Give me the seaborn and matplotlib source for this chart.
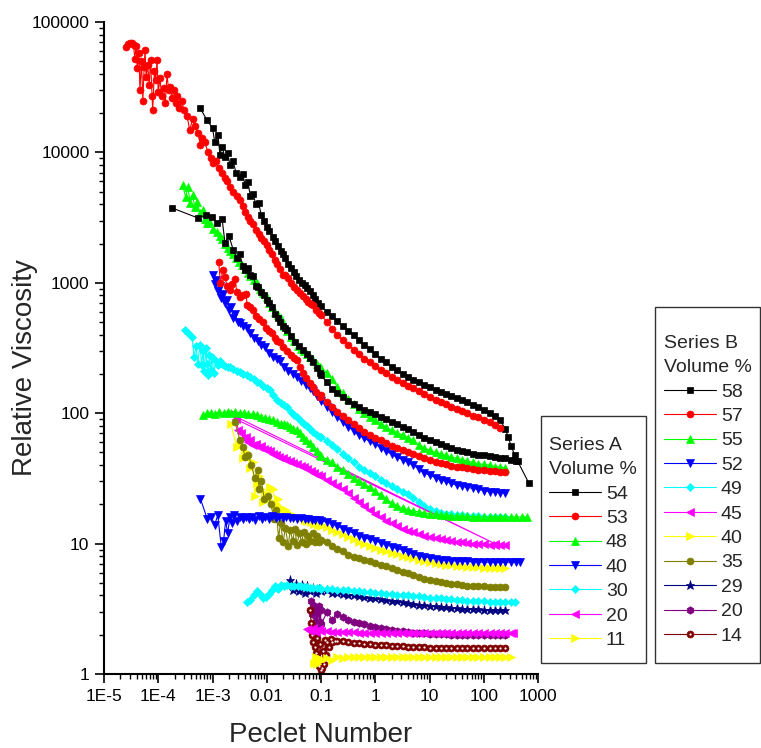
import matplotlib
matplotlib.use("Agg")
import numpy as np
import matplotlib.pyplot as plt
import seaborn as sns
from matplotlib.patches import Rectangle
from matplotlib.legend_handler import HandlerTuple
from matplotlib.ticker import LogLocator, NullFormatter

sns.set_style("ticks")
plt.rcParams["font.family"] = ["Liberation Sans", "DejaVu Sans"]

# ---------------- data ----------------
TAIL = [0.1, 0.13, 0.16, 0.2, 0.25,
        0.32, 0.4, 0.5, 0.63, 0.79,
        1, 1.3, 1.6, 2, 2.5,
        3.2, 4, 5, 6.3, 7.9,
        10, 13, 16, 20, 25,
        32, 40, 50, 63, 79,
        100, 130, 160, 200, 250]

x_ticks = [1e-5, 1e-4, 1e-3, 1e-2, 1e-1, 1, 10, 100, 1000]
x_tick_labels = ["1E-5", "1E-4", "1E-3", "0.01", "0.1", "1", "10", "100", "1000"]
y_ticks = [1, 10, 100, 1000, 10000, 100000]
y_tick_labels = ["1", "10", "100", "1000", "10000", "100000"]

# Series B, 58 %
pe_b58 = [5.9e-4, 7.9e-4, 1.0e-3, 1.1e-3, 1.26e-3, 1.37e-3, 1.5e-3, 1.7e-3, 1.9e-3, 2.1e-3,
          2.4e-3, 2.7e-3, 3.2e-3, 3.6e-3, 4.0e-3, 4.5e-3, 5.0e-3, 5.6e-3, 6.3e-3, 7.1e-3,
          7.9e-3, 8.9e-3, 0.01, 0.011, 0.013, 0.014, 0.016, 0.018, 0.02, 0.022,
          0.025, 0.028, 0.032, 0.035, 0.04, 0.045, 0.05, 0.056, 0.063, 0.071,
          0.079, 0.089] + TAIL + [280, 320, 370, 420, 680]
v_b58 = [21900, 17700, 15400, 12000, 13600, 9600, 11000, 9200, 9900, 8000,
         8600, 7000, 6500, 6800, 5600, 5900, 4600, 4800, 4000, 4100,
         3300, 3000, 2700, 2500, 2250, 2100, 1900, 1750, 1650, 1550,
         1400, 1300, 1200, 1130, 1060, 1000, 960, 920, 860, 800,
         750, 700,
         660, 600, 560, 510, 470, 430, 395, 365, 335, 310,
         285, 262, 245, 228, 213, 200, 190, 180, 172, 165,
         158, 151, 145, 140, 135, 130, 126, 121, 116, 111,
         106, 100, 95, 88, 76,
         66, 56, 48, 43, 29]

# Series B, 57 %
pe_b57 = [2.55e-5, 2.8e-5, 3.0e-5, 3.3e-5, 3.5e-5, 3.7e-5, 3.9e-5, 4.1e-5, 4.4e-5, 4.6e-5,
          4.9e-5, 5.2e-5, 5.5e-5, 5.7e-5, 6.0e-5, 6.4e-5, 6.8e-5, 7.2e-5, 7.7e-5, 7.9e-5,
          8.5e-5, 9.0e-5, 9.5e-5, 1.0e-4, 1.08e-4, 1.15e-4, 1.25e-4, 1.35e-4, 1.45e-4, 1.55e-4,
          1.65e-4, 1.8e-4, 1.95e-4, 2.1e-4, 2.2e-4, 2.45e-4, 2.7e-4, 3.0e-4, 3.4e-4, 3.8e-4,
          4.3e-4, 4.8e-4, 5.4e-4, 6.0e-4, 6.4e-4, 7.2e-4, 8.3e-4, 9.2e-4, 1.0e-3, 1.15e-3,
          1.3e-3, 1.5e-3, 1.7e-3, 1.85e-3, 2.1e-3, 2.4e-3, 2.8e-3, 3.2e-3, 3.6e-3, 4.0e-3,
          4.5e-3, 5.0e-3, 5.6e-3, 6.3e-3, 7.1e-3, 7.9e-3, 8.9e-3, 0.01, 0.011, 0.0125,
          0.014, 0.0155, 0.0175, 0.02, 0.022, 0.025, 0.028, 0.032, 0.036, 0.041,
          0.046, 0.052, 0.058, 0.065, 0.071, 0.08, 0.09] + TAIL[:34]
v_b57 = [64000, 68000, 69000, 69000, 67000, 52000, 66000, 44000, 58000, 30000,
         50000, 25000, 45000, 61000, 38000, 47000, 33000, 51000, 27000, 21000,
         42000, 36000, 51000, 29000, 37000, 27000, 31000, 24000, 40000, 30000,
         32000, 26000, 30000, 24000, 27000, 22000, 25000, 21000, 19000, 14800,
         18000, 16000, 14000, 11400, 13000, 12000, 10000, 9000, 8300, 8600,
         7600, 7000, 6400, 6000, 5400, 5000, 4600, 4300, 3900, 3500,
         3200, 3000, 2800, 2550, 2350, 2200, 2100, 1950, 1800, 1650,
         1500, 1400, 1280, 1150, 1150, 1080, 1000, 930, 880, 840,
         790, 750, 715, 690, 670, 620, 590,
         565, 500, 445, 400, 365, 335, 305, 282, 262, 245,
         230, 215, 202, 190, 180, 170, 162, 155, 147, 140,
         133, 127, 122, 117, 112, 108, 104, 100, 96, 93,
         89, 85, 81, 77]

# Series B, 55 %
pe_b55 = [2.8e-4, 3.2e-4, 3.5e-4, 3.9e-4, 4.3e-4, 4.7e-4, 5.2e-4, 5.9e-4, 6.6e-4, 7.2e-4,
          7.9e-4, 8.8e-4, 1.0e-3, 1.2e-3, 1.37e-3, 1.5e-3, 1.7e-3, 1.9e-3, 2.1e-3, 2.4e-3,
          2.7e-3, 3.1e-3, 3.5e-3, 4.0e-3, 4.5e-3, 5.0e-3, 5.7e-3, 6.6e-3, 7.5e-3, 8.5e-3,
          0.01, 0.0112, 0.0124, 0.014, 0.016, 0.018, 0.021, 0.024, 0.028, 0.032,
          0.037, 0.042, 0.048, 0.055, 0.063, 0.072, 0.083, 0.095] + TAIL
v_b55 = [5600, 4550, 5400, 4100, 4700, 3800, 4200, 3400, 3600, 3100,
         2900, 3000, 2600, 2450, 2300, 2150, 2000, 1850, 1750, 1650,
         1550, 1450, 1380, 1280, 1190, 1120, 1060, 1000, 900, 840,
         780, 700, 650, 600, 570, 540, 470, 430, 385, 355,
         330, 310, 300, 285, 270, 256, 240, 228,
         222, 204, 182, 160, 142, 128, 117, 107, 100, 94,
         89, 83, 78, 74, 71, 68, 65, 62, 57, 54.5,
         52, 50, 48.5, 47.5, 46, 45, 44, 43, 42, 41,
         40.5, 40, 39, 38.5, 38]

# Series B, 52 %
pe_b52 = [1.0e-3, 1.1e-3, 1.15e-3, 1.25e-3, 1.35e-3, 1.45e-3, 1.55e-3, 1.7e-3, 1.85e-3, 2.0e-3,
          2.2e-3, 2.4e-3, 2.6e-3, 2.9e-3, 3.2e-3, 3.6e-3, 4.3e-3, 5.0e-3, 5.8e-3, 6.8e-3,
          8.0e-3, 9.3e-3, 0.011, 0.013, 0.0155, 0.0175, 0.021, 0.025, 0.03, 0.036,
          0.043, 0.052, 0.062, 0.072, 0.085] + TAIL
v_b52 = [1150, 980, 1060, 870, 940, 760, 820, 700, 740, 620,
         650, 540, 580, 500, 490, 470, 450, 410, 380, 355,
         335, 320, 290, 270, 260, 250, 225, 210, 200, 190,
         178, 165, 155, 148, 135,
         125, 112, 102, 93, 86, 79, 73, 68, 64, 61,
         58, 54, 51, 48.5, 46, 44, 42, 40, 37.5, 35,
         33.5, 32, 31, 30, 29, 28, 27.5, 27, 26.5, 26,
         25.5, 25, 24.8, 24.6, 24.5]

# Series B, 49 %
pe_b49 = [3.1e-4, 3.6e-4, 4.2e-4, 4.6e-4, 5.0e-4, 5.3e-4, 5.9e-4, 6.3e-4, 6.7e-4, 7.1e-4,
          7.5e-4, 7.9e-4, 8.3e-4, 8.8e-4, 9.3e-4, 9.8e-4, 1.05e-3, 1.15e-3, 1.25e-3, 1.37e-3,
          1.5e-3, 1.7e-3, 1.9e-3, 2.1e-3, 2.4e-3, 2.8e-3, 3.2e-3, 3.7e-3, 4.3e-3, 5.0e-3,
          5.8e-3, 6.6e-3, 7.5e-3, 8.5e-3, 0.01, 0.0115, 0.013, 0.0155, 0.018, 0.021,
          0.024, 0.028, 0.032, 0.036, 0.042, 0.048, 0.055, 0.063, 0.072, 0.083,
          0.095] + TAIL
v_b49 = [436, 410, 385, 270, 330, 240, 335, 233, 300, 210,
         315, 240, 196, 280, 215, 270, 205, 250, 235, 250,
         240, 232, 228, 225, 220, 212, 207, 200, 195, 190,
         182, 175, 170, 162, 155, 150, 138, 126, 120, 115,
         111, 102, 97, 93, 87, 83, 80, 76, 72, 68,
         66,
         66, 61, 57, 53, 49, 45, 42, 39, 37, 35,
         33, 31, 29, 27.5, 26, 25, 24, 22.5, 21, 19.5,
         18.5, 17.8, 17.3, 17, 16.8, 16.6, 16.5, 16.4, 16.3, 16.2,
         16.1, 16, 16, 16, 16]

# Series B, 45 %
pe_b45 = [2.2e-3, 160, 2.7e-3, 3.0e-3, 3.4e-3, 3.7e-3, 4.2e-3, 4.6e-3, 5.0e-3, 5.6e-3,
          6.3e-3, 7.1e-3, 8.0e-3, 9.0e-3, 0.01, 0.0115, 0.013, 0.015, 0.017, 0.02,
          0.023, 0.027, 0.031, 0.036, 0.042, 0.048, 0.056, 0.065, 0.075, 0.087] + TAIL
v_b45 = [98, 10.0, 90, 74, 70, 64, 66, 60, 62, 57,
         58, 55, 56, 53, 52, 51, 49, 47.5, 46, 45,
         44, 43, 41.5, 40.5, 39.5, 38.5, 37.5, 36, 35, 33.5,
         33, 31, 29, 27.5, 26, 24.5, 22.5, 21, 19.5, 18,
         17, 16, 15, 14.3, 13.6, 13, 12.6, 12.2, 11.8, 11.5,
         11.2, 11, 10.8, 10.6, 10.4, 10.3, 10.2, 10.1, 10, 9.9,
         9.9, 9.8, 9.8, 9.7, 9.7]

# Series B, 40 %
pe_b40 = [2.2e-3, 2.8e-3, 3.2e-3, 3.6e-3, 4.2e-3, 5.0e-3, 5.5e-3, 6.0e-3, 6.5e-3, 7.1e-3,
          7.8e-3, 8.5e-3, 9.3e-3, 0.0105, 0.0115, 0.013, 0.0145, 0.016, 0.0175, 0.02,
          0.023, 0.027, 0.031, 0.036, 0.042, 0.05, 0.056, 0.065, 0.075, 0.087] + TAIL
v_b40 = [82, 55, 57, 45, 50, 38, 42, 23, 29, 33,
         26, 21, 24.5, 22, 27, 26, 20, 22, 19, 18.5,
         18, 17, 16.5, 16, 15.6, 15.3, 15, 14.6, 14.2, 13.9,
         13.7, 13.4, 12.8, 12.3, 11.9, 11.3, 10.8, 10.3, 9.9, 9.6,
         9.3, 9, 8.7, 8.5, 8.3, 8.1, 7.9, 7.7, 7.5, 7.3,
         7.2, 7.1, 7.0, 6.9, 6.8, 6.7, 6.7, 6.6, 6.6, 6.6,
         6.5, 6.5, 6.5, 6.5, 6.5]

# Series B, 35 %
pe_b35 = [2.6e-3, 3.2e-3, 3.6e-3, 4.0e-3, 4.6e-3, 5.2e-3, 6.0e-3, 6.9e-3, 7.2e-3, 8.0e-3,
          9.0e-3, 0.0105, 0.012, 0.0135, 0.015, 0.0165, 0.018, 0.02, 0.022, 0.025,
          0.027, 0.03, 0.033, 0.036, 0.04, 0.044, 0.048, 0.053, 0.058, 0.064,
          0.07, 0.077, 0.085, 0.093] + TAIL
v_b35 = [86, 62, 55, 46, 48, 40, 32, 37, 26, 30,
         22, 23, 20, 15.5, 18, 11, 14.5, 10.2, 13.2, 9.6,
         12.8, 10.5, 13, 9.8, 12, 10.2, 12.3, 9.9, 11.5, 10.5,
         12, 10.2, 11.4, 10.3,
         10.6, 10.2, 9.6, 9.1, 8.7, 8.2, 7.9, 7.7, 7.5, 7.3,
         7.1, 6.9, 6.7, 6.5, 6.3, 6.1, 5.9, 5.7, 5.5, 5.35,
         5.25, 5.15, 5.05, 4.98, 4.92, 4.86, 4.8, 4.77, 4.74, 4.72,
         4.7, 4.68, 4.67, 4.66, 4.65]

# Series B, 29 %
pe_b29 = [0.027, 0.031, 0.035, 0.04, 0.045, 0.05, 0.056, 0.063, 0.071, 0.08, 0.09] + TAIL
v_b29 = [5.3, 4.4, 4.9, 4.3, 4.8, 4.2, 4.7, 4.3, 4.6, 4.2, 4.5,
         4.3, 4.4, 4.2, 4.15, 4.1, 4.05, 4.0, 3.95, 3.9, 3.85,
         3.8, 3.75, 3.7, 3.65, 3.6, 3.55, 3.5, 3.45, 3.4, 3.37,
         3.33, 3.3, 3.27, 3.24, 3.21, 3.19, 3.17, 3.15, 3.14, 3.13,
         3.12, 3.11, 3.1, 3.1, 3.1]

# Series B, 20 %
pe_b20 = [0.066, 0.069, 0.072, 0.074, 0.077, 0.08, 0.083, 0.086, 0.09, 0.094, 0.098] + TAIL
v_b20 = [3.6, 2.9, 3.4, 2.4, 3.2, 2.0, 3.0, 2.2, 3.3, 2.5, 3.1,
         2.4, 3.0, 2.6, 2.9, 2.75, 2.6, 2.52, 2.46, 2.4, 2.35,
         2.3, 2.26, 2.22, 2.18, 2.15, 2.12, 2.1, 2.08, 2.06, 2.05,
         2.04, 2.03, 2.02, 2.01, 2.0, 2.0, 2.0, 2.0, 2.0, 2.0,
         2.0, 2.0, 2.0, 2.0, 2.0]

# Series B, 14 %
pe_b14 = [0.063, 0.066, 0.069, 0.072, 0.075, 0.078, 0.081, 0.085, 0.088, 0.092,
          0.096, 0.1, 0.105, 0.11, 0.115, 0.12, 0.125, 0.13, 0.14, 0.15,
          0.16, 0.18] + TAIL[3:]
v_b14 = [3.1, 2.45, 2.0, 1.75, 2.2, 1.6, 1.45, 1.9, 1.3, 1.15,
         1.7, 1.07, 1.12, 1.5, 1.2, 1.82, 1.4, 1.75, 1.6, 1.85,
         1.75, 1.8,
         1.8, 1.78, 1.76, 1.74, 1.72, 1.7, 1.69,
         1.68, 1.67, 1.66, 1.65, 1.64,
         1.63, 1.62, 1.61, 1.6, 1.6,
         1.59, 1.59, 1.58, 1.58, 1.58,
         1.58, 1.58, 1.58, 1.58, 1.58,
         1.58, 1.58, 1.58, 1.58, 1.58]

# Series A, 54 %
pe_a54 = [1.8e-4, 5.4e-4, 7.5e-4, 9.8e-4, 1.2e-3, 1.5e-3, 1.7e-3, 2.0e-3, 2.4e-3, 2.8e-3,
          3.2e-3, 3.6e-3, 4.0e-3, 4.5e-3, 5.0e-3, 5.6e-3, 6.3e-3, 6.9e-3, 7.9e-3, 8.9e-3,
          0.01, 0.011, 0.0125, 0.014, 0.016, 0.0175, 0.02, 0.022, 0.024, 0.028,
          0.033, 0.04, 0.047, 0.055, 0.063, 0.072, 0.084, 0.095] + TAIL + [320, 400]
v_a54 = [3750, 3140, 3300, 3200, 2900, 3100, 2020, 2300, 1800, 1550,
         1650, 1350, 1250, 1300, 1150, 1130, 950, 930, 850, 800,
         740, 700, 650, 580, 540, 500, 470, 450, 436, 390,
         352, 325, 305, 285, 265, 245, 222, 205,
         195, 172, 154, 142, 132, 124, 117, 111, 106, 102,
         98, 94, 90, 86, 82, 78, 75, 72, 68, 65,
         62, 60, 58, 56, 54, 52.5, 51, 50, 49, 48,
         47.5, 47, 46, 45.5, 45,
         44, 43]

# Series A, 53 %
pe_a53 = [1.3e-3, 1.4e-3, 1.55e-3, 1.7e-3, 1.85e-3, 2.1e-3, 2.3e-3, 2.6e-3, 2.8e-3, 3.2e-3,
          3.6e-3, 4.2e-3, 4.3e-3, 4.9e-3, 5.6e-3, 6.3e-3, 7.2e-3, 8.5e-3, 9.7e-3, 0.0112,
          0.0124, 0.014, 0.0155, 0.0175, 0.02, 0.024, 0.028, 0.032, 0.036, 0.041,
          0.047, 0.054, 0.062, 0.071, 0.082, 0.095] + TAIL
v_a53 = [1440, 1000, 1250, 1100, 950, 880, 980, 1070, 850, 780,
         800, 820, 680, 650, 620, 560, 530, 500, 450, 430,
         410, 380, 360, 350, 320, 300, 280, 265, 255, 228,
         205, 185, 170, 160, 145, 133,
         138, 122, 112, 103, 95, 88, 82, 77, 72, 68,
         65, 62, 59, 56.5, 54, 52, 50, 48.5, 47, 45.5,
         44, 42.5, 41.5, 40.5, 39.5, 39, 38.5, 38, 37.5, 37,
         36.5, 36, 35.8, 35.6, 35.5]

# Series A, 48 %
pe_a48 = [6.7e-4, 8.0e-4, 9.5e-4, 1.1e-3, 1.3e-3, 1.6e-3, 1.9e-3, 2.2e-3, 2.6e-3, 3.2e-3,
          3.8e-3, 4.6e-3, 5.5e-3, 6.6e-3, 7.8e-3, 9.2e-3, 0.011, 0.013, 0.0155, 0.018,
          0.021, 0.024, 0.027, 0.031, 0.036, 0.041, 0.047, 0.054, 0.063, 0.072,
          0.083, 0.095] + TAIL + [320, 400, 500, 630]
v_a48 = [97, 100, 101, 99, 102, 100, 103, 101, 102, 101,
         100, 99, 98, 97, 94, 92, 90, 88, 85, 83,
         82, 81, 79, 76, 74, 71, 66, 62, 59, 55,
         51, 48,
         47, 44, 42, 39, 36.5, 34, 32, 30, 28.5, 27,
         25.5, 23.5, 22, 20.5, 19.5, 18.7, 18.2, 17.8, 17.5, 17.2,
         17, 16.8, 16.6, 16.5, 16.4, 16.3, 16.2, 16.2, 16.1, 16.1,
         16, 16, 16, 16, 16,
         16, 16, 16, 16]

# Series A, 40 %
pe_a40 = [6.0e-4, 8.0e-4, 9.5e-4, 1.1e-3, 1.25e-3, 1.45e-3, 1.6e-3, 1.75e-3, 1.9e-3, 2.1e-3,
          2.3e-3, 2.5e-3, 2.8e-3, 3.2e-3, 3.6e-3, 4.1e-3, 4.7e-3, 5.4e-3, 6.2e-3, 7.1e-3,
          8.1e-3, 9.3e-3, 0.011, 0.0125, 0.0145, 0.017, 0.02, 0.023, 0.027, 0.031,
          0.036, 0.042, 0.05, 0.058, 0.067, 0.078, 0.09] + TAIL + [320, 400, 470]
v_a40 = [22, 15.5, 16, 14, 16.5, 9.5, 10.5, 15, 12, 16,
         14.5, 16.5, 15, 16, 15.5, 16, 15.5, 16, 15.2, 16.2,
         15.4, 16, 15.5, 16.2, 15.6, 16, 15.7, 15.9, 15.6, 15.8,
         15.5, 15.6, 15.4, 15.4, 15.3, 15.2, 15.1,
         15.0, 14.6, 14.2, 13.6, 13, 12.5, 12, 11.5, 11.1, 10.8,
         10.5, 10.1, 9.8, 9.5, 9.2, 8.9, 8.6, 8.3, 8.1, 7.9,
         7.8, 7.6, 7.5, 7.45, 7.4, 7.35, 7.3, 7.3, 7.25, 7.25,
         7.2, 7.2, 7.2, 7.2, 7.2,
         7.2, 7.2, 7.2]

# Series A, 30 %
pe_a30 = [4.3e-3, 5.0e-3, 5.7e-3, 6.5e-3, 7.5e-3, 8.5e-3, 9.7e-3, 0.011, 0.0125, 0.014,
          0.016, 0.018, 0.021, 0.024, 0.028, 0.032, 0.037, 0.042, 0.048, 0.055,
          0.063, 0.072, 0.083, 0.095] + TAIL + [320, 380]
v_a30 = [3.56, 3.7, 4.0, 4.3, 4.1, 3.85, 3.9, 4.1, 4.4, 4.7,
         4.5, 4.8, 4.7, 4.8, 4.7, 4.75, 4.7, 4.7, 4.65, 4.65,
         4.6, 4.6, 4.55, 4.55,
         4.5, 4.48, 4.45, 4.42, 4.4, 4.37, 4.34, 4.3, 4.27, 4.24,
         4.2, 4.17, 4.14, 4.1, 4.07, 4.03, 4.0, 3.97, 3.93, 3.9,
         3.86, 3.83, 3.8, 3.77, 3.74, 3.71, 3.68, 3.66, 3.64, 3.62,
         3.6, 3.59, 3.58, 3.57, 3.56,
         3.56, 3.56]

# Series A, 20 %
pe_a20 = [0.055, 0.063, 0.071, 0.08, 0.09] + TAIL + [320, 350]
v_a20 = [2.2, 2.15, 2.25, 2.1, 2.2,
         2.15, 2.12, 2.1, 2.1, 2.1, 2.09, 2.09, 2.08, 2.08, 2.08,
         2.07, 2.07, 2.07, 2.06, 2.06, 2.06, 2.06, 2.06, 2.05, 2.05,
         2.05, 2.05, 2.05, 2.05, 2.05, 2.05, 2.05, 2.05, 2.05, 2.05,
         2.05, 2.05, 2.05, 2.05, 2.05,
         2.05, 2.05]

# Series A, 11 %
pe_a11 = [0.075, 0.08, 0.085, 0.09, 0.095] + TAIL + [320]
v_a11 = [1.22, 1.35, 1.2, 1.32, 1.25,
         1.3, 1.33, 1.28, 1.34, 1.33, 1.35, 1.34, 1.35, 1.35, 1.35,
         1.35, 1.35, 1.35, 1.35, 1.35, 1.35, 1.35, 1.35, 1.35, 1.35,
         1.35, 1.35, 1.35, 1.35, 1.35, 1.35, 1.35, 1.35, 1.35, 1.35,
         1.35, 1.35, 1.35, 1.35, 1.35,
         1.35]

series_b = [
    ("58", pe_b58, v_b58, "#000000", "s", 4.6),
    ("57", pe_b57, v_b57, "#FF0000", "o", 5.0),
    ("55", pe_b55, v_b55, "#00FF00", "^", 5.4),
    ("52", pe_b52, v_b52, "#0000FF", "v", 5.4),
    ("49", pe_b49, v_b49, "#00FFFF", "D", 4.2),
    ("45", pe_b45, v_b45, "#FF00FF", "<", 5.4),
    ("40", pe_b40, v_b40, "#FFFF00", ">", 5.4),
    ("35", pe_b35, v_b35, "#808000", "o", 5.0),
    ("29", pe_b29, v_b29, "#000080", "*", 6.6),
    ("20", pe_b20, v_b20, "#800080", "h", 5.4),
    ("14", pe_b14, v_b14, "#800000", "o", 5.0),
]
series_a = [
    ("54", pe_a54, v_a54, "#000000", "s", 4.6),
    ("53", pe_a53, v_a53, "#FF0000", "o", 5.0),
    ("48", pe_a48, v_a48, "#00FF00", "^", 5.4),
    ("40", pe_a40, v_a40, "#0000FF", "v", 5.4),
    ("30", pe_a30, v_a30, "#00FFFF", "D", 4.2),
    ("20", pe_a20, v_a20, "#FF00FF", "<", 5.4),
    ("11", pe_a11, v_a11, "#FFFF00", ">", 5.4),
]

# ---------------- figure ----------------
W, H = 761, 748
fig = plt.figure(figsize=(W / 100, H / 100), dpi=100)
x0, x1, y_top, y_bot = 104, 538, 22, 674
ax = fig.add_axes([x0 / W, 1 - y_bot / H, (x1 - x0) / W, (y_bot - y_top) / H])
ax.set_xscale("log")
ax.set_yscale("log")


def draw(pe, v, color, marker, ms, lw=0.8):
    n = min(len(pe), len(v))
    sns.lineplot(x=pe[:n], y=v[:n], ax=ax, sort=False, estimator=None,
                 color=color, marker=marker, markersize=ms,
                 markeredgecolor=color, markeredgewidth=0.5,
                 linewidth=lw, legend=False)
    return ax.lines[-1]


handles_b, labels_b = [], []
for lab, pe, v, c, m, ms in series_b:
    h = draw(pe, v, c, m, ms)
    if lab == "14":
        n = min(len(pe), len(v))
        sns.lineplot(x=pe[:n], y=v[:n], ax=ax, sort=False, estimator=None,
                     color="white", marker="o", markersize=1.6,
                     markeredgecolor="white", markeredgewidth=0,
                     linewidth=0, legend=False)
        h = (h, ax.lines[-1])
    handles_b.append(h)
    labels_b.append(lab)

handles_a, labels_a = [], []
for lab, pe, v, c, m, ms in series_a:
    h = draw(pe, v, c, m, ms)
    handles_a.append(h)
    labels_a.append(lab)

ax.set_xlim(1e-5, 1000)
ax.set_ylim(1, 1e5)
ax.set_xticks(x_ticks)
ax.set_xticklabels(x_tick_labels)
ax.set_yticks(y_ticks)
ax.set_yticklabels(y_tick_labels)
ax.xaxis.set_minor_locator(LogLocator(base=10, subs=(2, 3, 4, 5, 6, 7, 8, 9), numticks=100))
ax.yaxis.set_minor_locator(LogLocator(base=10, subs=(2, 3, 4, 5, 6, 7, 8, 9), numticks=100))
ax.xaxis.set_minor_formatter(NullFormatter())
ax.yaxis.set_minor_formatter(NullFormatter())
sns.despine(ax=ax)
for s in ("left", "bottom"):
    ax.spines[s].set_linewidth(1.5)
    ax.spines[s].set_color("black")
ax.tick_params(which="major", direction="out", length=6.5, width=1.2,
               labelsize=12.5, pad=4, colors="black")
ax.tick_params(which="minor", direction="out", length=3.6, width=1.0, colors="black")

ax.set_xlabel("Peclet Number", fontsize=20)
ax.set_ylabel("Relative Viscosity", fontsize=20)
ax.xaxis.set_label_coords(0.5, -0.074)
ax.yaxis.set_label_coords(-0.152, 0.47)

leg_common = dict(loc="upper left", frameon=False, borderpad=0, borderaxespad=0,
                  alignment="left", fontsize=14, title_fontsize=14,
                  handlelength=2.67, handletextpad=0.26, labelspacing=0.35,
                  numpoints=1, handler_map={tuple: HandlerTuple(ndivide=1)})
legA = fig.legend(handles_a, labels_a, title="Series A\nVolume %",
                  bbox_to_anchor=(549 / W, 1 - 437 / H), **leg_common)
legB = fig.legend(handles_b, labels_b, title="Series B\nVolume %",
                  bbox_to_anchor=(664 / W, 1 - 335 / H), **leg_common)
for lg in (legA, legB):
    lg.get_title().set_linespacing(1.55)

fig.add_artist(Rectangle((541 / W, 1 - 663 / H), 105 / W, 247 / H,
                         transform=fig.transFigure, fill=False,
                         edgecolor="#333333", linewidth=1.0))
fig.add_artist(Rectangle((655 / W, 1 - 663 / H), 105 / W, 356 / H,
                         transform=fig.transFigure, fill=False,
                         edgecolor="#333333", linewidth=1.0))

fig.savefig("out.png", dpi=100, facecolor="white")
